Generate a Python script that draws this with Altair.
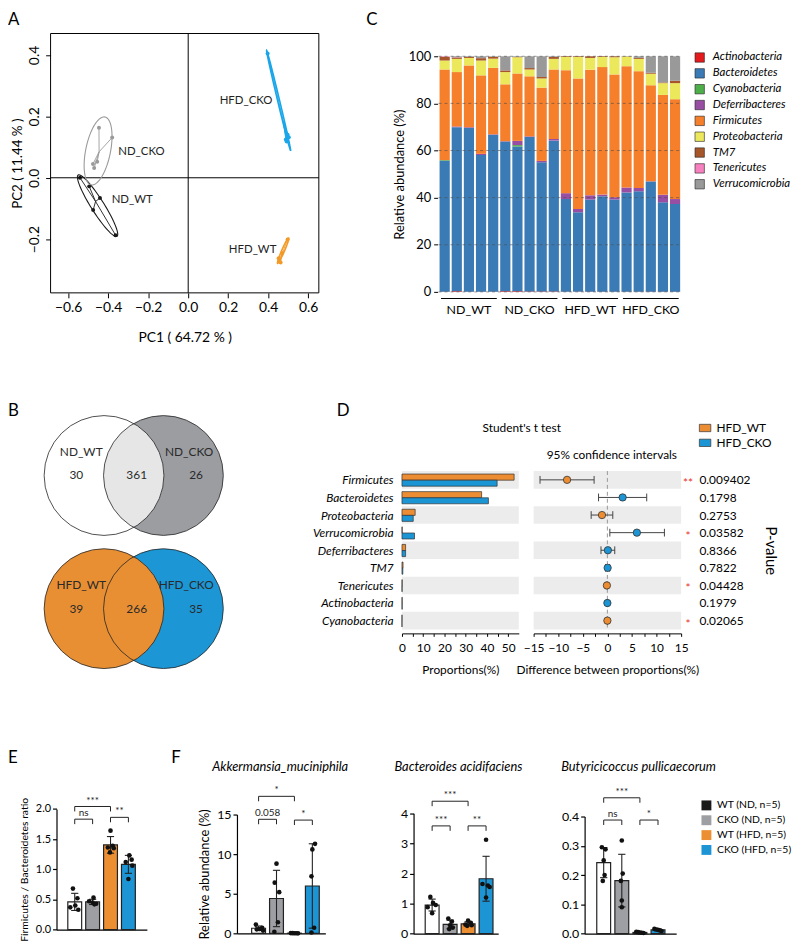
import altair as alt
import numpy as np
import pandas as pd

W, H = 792, 936
M = 8
FONT = "Lato"


def px(v):
    return v - M


# ====================== DATA ======================
pca_group = ["ND_WT"] * 5 + ["ND_CKO"] * 5 + ["HFD_CKO"] * 5 + ["HFD_WT"] * 5
pc1 = [-0.541, -0.495, -0.441, -0.475, -0.363,
       -0.446, -0.380, -0.455, -0.470, -0.476,
       0.397, 0.497, 0.492, 0.503, 0.488,
       0.456, 0.462, 0.452, 0.497, 0.470]
pc2 = [0.000, -0.028, -0.066, -0.105, -0.187,
       0.163, 0.131, 0.052, 0.032, 0.045,
       0.405, 0.140, 0.118, 0.132, 0.125,
       -0.272, -0.276, -0.262, -0.201, -0.245]
pca_groups = ["ND_WT", "ND_CKO", "HFD_CKO", "HFD_WT"]
pca_colors = ["#1a1a1a", "#9a9a9a", "#1aa6e8", "#f29a28"]

sample_groups = ["ND_WT", "ND_CKO", "HFD_WT", "HFD_CKO"]
samples = [f"{g}_{i}" for g in sample_groups for i in range(1, 6)]
phyla = ["Actinobacteria", "Bacteroidetes", "Cyanobacteria", "Deferribacteres",
         "Firmicutes", "Proteobacteria", "TM7", "Tenericutes", "Verrucomicrobia"]
phyla_colors = ["#e41a1c", "#3b7bb5", "#4daf4a", "#984ea3", "#f57f2b",
                "#ece85c", "#a65628", "#f781bf", "#999999"]
abund = {
    "Actinobacteria": [0.1, 0.3, 0.1, 0.1, 0.1, 0.3, 0.3, 0.2, 0.2, 0.2,
                       0.1, 0.1, 0.1, 0.1, 0.1, 0.1, 0.1, 0.1, 0.1, 0.1],
    "Bacteroidetes": [55.5, 69.6, 69.5, 58.0, 66.6, 63.4, 61.4, 65.5, 54.8, 64.0,
                      39.3, 33.7, 39.1, 40.5, 39.1, 42.1, 42.6, 46.8, 37.9, 37.2],
    "Cyanobacteria": [0.3, 0, 0, 0, 0, 0.1, 0.6, 0, 0, 0,
                      0, 0, 0, 0, 0, 0, 0, 0, 0, 0],
    "Deferribacteres": [0.1, 0.3, 0.3, 0.5, 0.2, 0.2, 1.8, 0.3, 0.6, 0.7,
                        2.5, 1.4, 1.8, 0.7, 1.0, 2.1, 1.4, 0.1, 3.2, 2.1],
    "Firmicutes": [38.4, 23.1, 26.2, 33.3, 28.2, 24.1, 28.6, 25.5, 31.1, 29.5,
                   52.2, 55.4, 53.3, 54.1, 52.1, 51.5, 49.6, 40.7, 42.4, 42.4],
    "Proteobacteria": [3.8, 5.6, 3.2, 6.3, 3.9, 5.2, 6.9, 2.9, 3.9, 4.5,
                       5.6, 9.1, 5.0, 4.3, 7.3, 4.1, 5.2, 4.9, 5.0, 6.8],
    "TM7": [1.6, 0.6, 0.4, 1.0, 0.8, 0.7, 0.1, 0.6, 0.6, 0.8,
            0.3, 0.3, 0.7, 0.3, 0.4, 0.1, 0.4, 0.4, 0.3, 1.0],
    "Tenericutes": [0.2, 0.1, 0, 0, 0, 0, 0, 0, 0, 0,
                    0, 0, 0, 0, 0, 0, 0, 0, 0, 0],
    "Verrucomicrobia": [0, 0.4, 0.3, 0.8, 0.2, 6.0, 0.3, 5.0, 8.8, 0.3,
                        0, 0, 0, 0, 0, 0.1, 0.7, 7.0, 11.1, 10.4],
}

venn_sets = ["ND_WT", "ND_CKO", "HFD_WT", "HFD_CKO"]
venn_colors = ["#ffffff", "#9b9da1", "#e88f34", "#1c96d5"]
venn_only = [30, 26, 39, 35]
venn_shared = [361, 266]

d_phyla = ["Firmicutes", "Bacteroidetes", "Proteobacteria", "Verrucomicrobia",
           "Deferribacteres", "TM7", "Tenericutes", "Actinobacteria", "Cyanobacteria"]
prop_wt = [52.8, 37.5, 6.2, 0.1, 1.7, 0.5, 0.1, 0.1, 0.02]
prop_cko = [44.8, 40.7, 5.3, 5.9, 1.7, 0.4, 0.05, 0.1, 0.0]
diff = [-8.2, 3.1, -1.1, 6.0, 0.1, 0.05, -0.1, 0.0, 0.0]
ci_lo = [-13.7, -1.8, -3.3, 0.5, -1.3, -0.35, -0.25, -0.1, -0.05]
ci_hi = [-2.7, 8.0, 1.1, 11.6, 1.5, 0.45, 0.05, 0.1, 0.05]
higher = ["HFD_WT", "HFD_CKO", "HFD_WT", "HFD_CKO", "HFD_CKO",
          "HFD_CKO", "HFD_WT", "HFD_CKO", "HFD_WT"]
pvals = ["0.009402", "0.1798", "0.2753", "0.03582", "0.8366",
         "0.7822", "0.04428", "0.1979", "0.02065"]
stars = ["**", "", "", "*", "", "", "*", "", "*"]
d_groups = ["HFD_WT", "HFD_CKO"]
d_colors = ["#ec8d33", "#1c95d4"]

GROUPS = ["WT (ND, n=5)", "CKO (ND, n=5)", "WT (HFD, n=5)", "CKO (HFD, n=5)"]
BAR_FILL = ["#ffffff", "#9d9fa3", "#ec8f33", "#1d95d4"]
LEG_FILL = ["#1a1a1a", "#9d9fa3", "#ec8f33", "#1d95d4"]

fb_ratio = [[0.68, 0.52, 0.40, 0.37, 0.33], [0.53, 0.47, 0.45, 0.43, 0.42],
            [1.64, 1.39, 1.36, 1.35, 1.28], [1.23, 1.16, 1.12, 1.06, 0.84]]
fb_jit = [[-0.1, 0.15, 0.03, -0.25, 0.2], [0.05, -0.2, 0.0, 0.2, 0.1],
          [0.0, 0.12, -0.15, 0.18, -0.03], [0.05, 0.18, -0.15, 0.22, 0.0]]
akk = [[1.1, 0.7, 0.55, 0.5, 0.35], [8.8, 6.4, 5.2, 1.4, 0.2],
       [0.03, 0.02, 0.01, 0.01, 0.0], [11.3, 10.6, 7.2, 0.7, 0.1]]
akk_jit = [[-0.15, 0.2, 0.05, -0.1, 0.25], [0.0, -0.1, 0.15, 0.08, -0.12],
           [-0.2, -0.1, 0.0, 0.1, 0.2], [0.15, 0.0, -0.05, 0.1, -0.05]]
bac = [[1.22, 1.02, 0.95, 0.88, 0.68], [0.5, 0.4, 0.28, 0.2, 0.15],
       [0.43, 0.36, 0.3, 0.28, 0.26], [3.12, 1.65, 1.6, 1.55, 1.2]]
bac_jit = [[-0.1, 0.05, 0.2, -0.25, 0.0], [-0.1, 0.1, 0.0, 0.15, -0.05],
           [0.0, 0.15, -0.15, 0.2, -0.05], [0.0, -0.2, 0.1, 0.2, 0.0]]
but = [[0.295, 0.288, 0.25, 0.2, 0.18], [0.318, 0.205, 0.18, 0.113, 0.09],
       [0.006, 0.005, 0.004, 0.003, 0.002], [0.016, 0.014, 0.013, 0.011, 0.009]]
but_jit = [[-0.1, 0.1, 0.0, 0.05, -0.05], [0.0, 0.05, -0.05, 0.0, 0.0],
           [-0.2, -0.1, 0.0, 0.1, 0.2], [-0.2, -0.1, 0.0, 0.1, 0.2]]

fb_br = [(1, 2, 1.83, "ns"), (1, 3, 2.04, "***"), (3, 4, 1.86, "**")]
akk_br = [(1, 3, 17.3, "*"), (1, 2, 14.4, "0.058"), (3, 4, 14.3, "*")]
bac_br = [(1, 3, 4.4, "***"), (1, 2, 3.58, "***"), (3, 4, 3.58, "**")]
but_br = [(1, 3, 0.464, "***"), (1, 2, 0.388, "ns"), (3, 4, 0.388, "*")]

# ====================== HELPERS ======================
dummy = pd.DataFrame({"k": [0]})
AX = dict(grid=False, labelFlush=False, labelOverlap=False, labelColor="black",
          titleColor="black", domainColor="black", tickColor="black",
          titleFontWeight="normal")


def axis_left(at_x, **kw):
    return alt.Axis(orient="left", offset=-px(at_x), **{**AX, **kw})


def axis_bottom(at_y, **kw):
    return alt.Axis(orient="bottom", offset=px(at_y) - H, **{**AX, **kw})


def axis_right(at_x, **kw):
    return alt.Axis(orient="right", offset=px(at_x) - W, **{**AX, **kw})


def lin(domain, r0, r1):
    return alt.Scale(domain=domain, range=[px(r0), px(r1)], nice=False, zero=False)


def note(text, x, y, size=12, align="left", baseline="alphabetic", style="normal", color="black"):
    return alt.Chart(dummy).mark_text(
        text=text, fontSize=size, align=align, baseline=baseline, fontStyle=style, color=color
    ).encode(x=alt.value(px(x)), y=alt.value(px(y)))


# ====================== PANEL A ======================
A_XDOM, A_YDOM = [-0.688, 0.653], [-0.375, 0.47]
A_L, A_R, A_T, A_B = 51, 322, 29, 291
a_xs = lin(A_XDOM, A_L, A_R)
a_ys = lin(A_YDOM, A_B, A_T)
a_col = alt.Scale(domain=pca_groups, range=pca_colors)
KX = (A_R - A_L) / (A_XDOM[1] - A_XDOM[0])
KY = (A_B - A_T) / (A_YDOM[1] - A_YDOM[0])

ellipse_spec = {
    "ND_WT": ((-0.55, 0.009), (-0.356, -0.191), 6.5),
    "ND_CKO": ((-0.416, 0.198), (-0.485, -0.023), 12.5),
    "HFD_CKO": ((0.392, 0.415), (0.512, 0.088), 1.0),
    "HFD_WT": ((0.447, -0.279), (0.502, -0.196), 1.4),
}


def ellipse_points(p1, p2, half_px, n=90):
    x1, y1 = p1[0] * KX, p1[1] * KY
    x2, y2 = p2[0] * KX, p2[1] * KY
    cx, cy = (x1 + x2) / 2, (y1 + y2) / 2
    ax, ay = (x2 - x1) / 2, (y2 - y1) / 2
    L = np.hypot(ax, ay)
    bx, by = -ay / L * half_px, ax / L * half_px
    t = np.linspace(0, 2 * np.pi, n + 1)
    X = cx + ax * np.cos(t) + bx * np.sin(t)
    Y = cy + ay * np.cos(t) + by * np.sin(t)
    return X / KX, Y / KY, t


ell_rows = []
for g, (p1, p2, hw) in ellipse_spec.items():
    xe, ye, te = ellipse_points(p1, p2, hw)
    for a, b, c in zip(xe, ye, te):
        ell_rows.append({"group": g, "x": a, "y": b, "t": c,
                         "w": 1.6 if g.startswith("HFD") else 1.1})
ell_df = pd.DataFrame(ell_rows)

pca_df = pd.DataFrame({"group": pca_group, "pc1": pc1, "pc2": pc2})
cent = pca_df.groupby("group")[["pc1", "pc2"]].mean().rename(columns={"pc1": "c1", "pc2": "c2"}).reset_index()
spider_df = pca_df.merge(cent, on="group")

a_pts = alt.Chart(pca_df).mark_circle(size=16, opacity=1).encode(
    x=alt.X("pc1:Q", scale=a_xs, axis=axis_bottom(
        A_B, values=[-0.6, -0.4, -0.2, 0, 0.2, 0.4, 0.6], format=".1f", domain=False,
        tickSize=5, labelPadding=3, labelFontSize=14, title="PC1 ( 64.72 % )",
        titleFontSize=14, titleY=45, titleBaseline="middle")),
    y=alt.Y("pc2:Q", scale=a_ys, axis=axis_left(
        A_L, values=[-0.2, 0, 0.2, 0.4], format=".1f", domain=False, tickSize=5,
        labelPadding=4, labelFontSize=14, labelAngle=270, labelAlign="center",
        labelBaseline="bottom", title="PC2 ( 11.44 % )", titleFontSize=13.5,
        titleAngle=270, titleX=-33, titleAlign="center", titleBaseline="middle")),
    color=alt.Color("group:N", scale=a_col, legend=None),
)
a_frame = alt.Chart(dummy).mark_rect(fillOpacity=0, stroke="black", strokeWidth=1).encode(
    x=alt.datum(A_XDOM[0]), x2=alt.datum(A_XDOM[1]),
    y=alt.datum(A_YDOM[0]), y2=alt.datum(A_YDOM[1]))
a_vline = alt.Chart(dummy).mark_rule(color="black", strokeWidth=1).encode(
    x=alt.datum(0), y=alt.datum(A_YDOM[0]), y2=alt.datum(A_YDOM[1]))
a_hline = alt.Chart(dummy).mark_rule(color="black", strokeWidth=1).encode(
    y=alt.datum(0), x=alt.datum(A_XDOM[0]), x2=alt.datum(A_XDOM[1]))
a_ell = alt.Chart(ell_df).mark_line().encode(
    x="x:Q", y="y:Q", detail="group:N", order="t:Q",
    strokeWidth=alt.StrokeWidth("w:Q", scale=None),
    color=alt.Color("group:N", legend=None))
a_spider = alt.Chart(spider_df).mark_rule(strokeWidth=0.9).encode(
    x="c1:Q", y="c2:Q", x2="pc1:Q", y2="pc2:Q",
    color=alt.Color("group:N", legend=None))
a_label_pos = [("HFD_CKO", 0.289, 0.25), ("ND_CKO", -0.234, 0.085),
               ("ND_WT", -0.28, -0.073), ("HFD_WT", 0.322, -0.237)]
a_labels = [alt.Chart(dummy).mark_text(text=t, fontSize=11.5, color="#222", baseline="middle").encode(
    x=alt.datum(xv), y=alt.datum(yv)) for t, xv, yv in a_label_pos]
panel_a = alt.layer(a_pts, a_frame, a_vline, a_hline, a_ell, a_spider, *a_labels)

# ====================== PANEL C ======================
c_rows = []
for k, p in enumerate(phyla):
    for s, v in zip(samples, abund[p]):
        c_rows.append({"sample": s, "phylum": p, "pidx": k, "value": v})
c_df = pd.DataFrame(c_rows)
c_xs = alt.Scale(domain=samples, range=[px(443), px(688)], paddingInner=0.16, paddingOuter=0.08)
c_ys = lin([0, 100], 290, 52)
c_bars = alt.Chart(c_df).mark_bar().encode(
    x=alt.X("sample:N", scale=c_xs, sort=samples, axis=None),
    y=alt.Y("value:Q", scale=c_ys, stack="zero", axis=axis_left(
        442, values=[0, 20, 40, 60, 80, 100], domain=False, tickSize=4, labelPadding=3,
        labelFontSize=13, title="Relative abundance (%)", titleFontSize=13, titleX=-38,
        titleAngle=270, titleAlign="center", titleBaseline="middle")),
    color=alt.Color("phylum:N", scale=alt.Scale(domain=phyla, range=phyla_colors),
                    legend=alt.Legend(orient="none", legendX=px(701), legendY=px(47.5), title=None,
                                      symbolType="square", symbolSize=90, symbolStrokeColor="#222",
                                      symbolStrokeWidth=0.6, labelFontSize=11.5, labelFontStyle="italic",
                                      labelOffset=7.5, rowPadding=3, padding=0, labelColor="black")),
    order=alt.Order("pidx:Q", sort="ascending"),
)
c_oxs = lin([0, 20], 443, 688)
grid_df = pd.DataFrame({"v": [0, 20, 40, 60, 80, 100]})
c_grid = alt.Chart(grid_df).mark_rule(color="#4d4d4d", strokeDash=[3, 3], strokeWidth=0.8, opacity=0.75).encode(
    x=alt.X(datum=0, scale=c_oxs, axis=None), x2=alt.datum(20),
    y=alt.Y("v:Q", scale=c_ys, axis=None))
grp_df = pd.DataFrame({"grp": sample_groups, "gidx": range(4)})
c_under = alt.Chart(grp_df).transform_calculate(
    x1="datum.gidx * 5 + 0.2", x2="datum.gidx * 5 + 4.8").mark_rule(color="black", strokeWidth=1.2).encode(
    x="x1:Q", x2="x2:Q", y=alt.datum(-2.8))
c_glab = alt.Chart(grp_df).transform_calculate(xm="datum.gidx * 5 + 2.5").mark_text(
    fontSize=12.5, baseline="middle", color="black").encode(
    x="xm:Q", y=alt.datum(-7.7), text="grp:N")
panel_c2 = alt.layer(c_grid, c_under, c_glab)

# ====================== PANEL B (Venn) ======================
VX, VY = [-0.5, 0.5], [0, 1]
VS = 121 ** 2
venn_df = pd.DataFrame({"set": venn_sets, "side": [-0.5, 0.5, -0.5, 0.5], "row": [0, 0, 1, 1]})


def vx():
    return lin(VX, 105, 165)


def vy():
    return lin(VY, 475.5, 610)


def vcol():
    return alt.Scale(domain=venn_sets, range=venn_colors)


def venn_circles(filt, opacity):
    return alt.Chart(venn_df).transform_filter(filt).mark_point(
        shape="circle", filled=True, size=VS, opacity=opacity).encode(
        x=alt.X("side:Q", scale=vx(), axis=None), y=alt.Y("row:Q", scale=vy(), axis=None),
        color=alt.Color("set:N", scale=vcol(), legend=None))


v_right = venn_circles("datum.side > 0", 1)
v_left_top = venn_circles("datum.side < 0 && datum.row == 0", 0.75)
v_left_bot = venn_circles("datum.side < 0 && datum.row == 1", 1)
v_out = alt.Chart(venn_df).mark_point(shape="circle", filled=False, size=VS, color="#222",
                                      strokeWidth=0.8, opacity=1).encode(
    x=alt.X("side:Q", scale=vx(), axis=None), y=alt.Y("row:Q", scale=vy(), axis=None))


def vtext(t, side, row, dx, dy):
    return alt.Chart(dummy).mark_text(text=str(t), fontSize=12, color="#2a2a2a", baseline="middle",
                                      dx=dx, dy=dy).encode(
        x=alt.X(datum=side, scale=vx(), axis=None), y=alt.Y(datum=row, scale=vy(), axis=None))


v_texts = [
    vtext(venn_sets[0], -0.5, 0, -23, -24), vtext(venn_sets[1], 0.5, 0, 26, -24),
    vtext(venn_only[0], -0.5, 0, -28, 0), vtext(venn_shared[0], 0, 0, 3, 0),
    vtext(venn_only[1], 0.5, 0, 33, 0),
    vtext(venn_sets[2], -0.5, 1, -23, -24), vtext(venn_sets[3], 0.5, 1, 23, -24),
    vtext(venn_only[2], -0.5, 1, -28, 0), vtext(venn_shared[1], 0, 1, 3, 0),
    vtext(venn_only[3], 0.5, 1, 33, 0),
]
venn_layers = [v_right, v_left_top, v_left_bot, v_out, *v_texts]

# ====================== PANEL D ======================
nD = len(d_phyla)
d_ys = lin([-0.5, nD - 0.5], 471, 631)
d_bxs = lin([0, 55], 406, 524)
d_cxs = lin([-15, 15], 539, 688)
D_AXIS_Y = 635
band_df = pd.DataFrame({"i": list(range(0, nD, 2))})
bar_rows = []
for i in range(nD):
    bar_rows.append({"i": i, "grp": "HFD_WT", "value": prop_wt[i]})
    bar_rows.append({"i": i, "grp": "HFD_CKO", "value": prop_cko[i]})
dbar_df = pd.DataFrame(bar_rows)
names_expr = "[" + ",".join(f"'{p}'" for p in d_phyla) + "][datum.value]"
pv_expr = "[" + ",".join(f"'{p}'" for p in pvals) + "][datum.value]"

d_band1 = alt.Chart(band_df).transform_calculate(y0="datum.i - 0.5", y1="datum.i + 0.5").mark_rect(
    color="#ececec").encode(x=alt.datum(0), x2=alt.datum(55), y="y0:Q", y2="y1:Q")
d_bar = alt.Chart(dbar_df).transform_calculate(
    y0="datum.grp == 'HFD_WT' ? datum.i - 0.33 : datum.i + 0.02",
    y1="datum.grp == 'HFD_WT' ? datum.i + 0.02 : datum.i + 0.36",
).mark_rect(stroke="#333", strokeWidth=0.7).encode(
    x=alt.X("value:Q", scale=d_bxs, axis=axis_bottom(
        D_AXIS_Y, values=list(range(0, 55, 5)), format="d",
        labelExpr="datum.value % 10 === 0 ? datum.label : ''", tickSize=3, labelPadding=6,
        labelFontSize=12, title="Proportions(%)", titleFontSize=12, titleY=37, titleBaseline="middle")),
    x2=alt.datum(0),
    y=alt.Y("y0:Q", scale=d_ys, axis=axis_left(
        406, values=list(range(nD)), labelExpr=names_expr, ticks=False, domain=False,
        labelPadding=9, labelFontSize=12, labelFontStyle="italic", title=None)),
    y2="y1:Q",
    color=alt.Color("grp:N", scale=alt.Scale(domain=d_groups, range=d_colors), legend=alt.Legend(
        orient="none", legendX=px(705.7), legendY=px(421), title=None,
        symbolType="M-1,-0.64L1,-0.64L1,0.64L-1,0.64Z", symbolSize=134, symbolStrokeColor="#333",
        symbolStrokeWidth=0.7, labelFontSize=12, labelOffset=5, rowPadding=2, padding=0,
        labelColor="black")),
)
panel_d1 = alt.layer(d_band1, d_bar)

ci_df = pd.DataFrame({"i": list(range(nD)), "diff": diff, "lo": ci_lo, "hi": ci_hi,
                      "grp": higher, "star": stars})
d_band2 = alt.Chart(band_df).transform_calculate(y0="datum.i - 0.5", y1="datum.i + 0.5").mark_rect(
    color="#ececec").encode(x=alt.datum(-15), x2=alt.datum(15), y="y0:Q", y2="y1:Q")
d_zero = alt.Chart(dummy).mark_rule(color="#999", strokeDash=[4, 3], strokeWidth=1).encode(
    x=alt.datum(0), y=alt.datum(-0.5), y2=alt.datum(nD - 0.5))
d_ci = alt.Chart(ci_df).mark_rule(color="#444", strokeWidth=1).encode(x="lo:Q", x2="hi:Q", y="i:Q")
d_cap_l = alt.Chart(ci_df).transform_calculate(a="datum.i - 0.22", b="datum.i + 0.22").mark_rule(
    color="#444", strokeWidth=1).encode(x="lo:Q", y="a:Q", y2="b:Q")
d_cap_r = alt.Chart(ci_df).transform_calculate(a="datum.i - 0.22", b="datum.i + 0.22").mark_rule(
    color="#444", strokeWidth=1).encode(x="hi:Q", y="a:Q", y2="b:Q")
d_pts = alt.Chart(ci_df).mark_point(filled=True, size=55, stroke="#333", strokeWidth=0.8, opacity=1).encode(
    x=alt.X("diff:Q", scale=d_cxs, axis=axis_bottom(
        D_AXIS_Y, values=[float(v) for v in np.arange(-15, 15.1, 2.5)], format="d",
        labelExpr="datum.value % 5 === 0 ? datum.label : ''", tickSize=3, labelPadding=6,
        labelFontSize=12, title="Difference between proportions(%)", titleFontSize=12,
        titleY=37, titleBaseline="middle")),
    y=alt.Y("i:Q", scale=d_ys, axis=axis_right(
        688, values=list(range(nD)), labelExpr=pv_expr, ticks=False, domain=False,
        labelPadding=18, labelFontSize=12, title="P-value", titleFontSize=15, titleAngle=90,
        titleX=90, titleAlign="center", titleBaseline="middle")),
    color=alt.Color("grp:N", scale=alt.Scale(domain=d_groups, range=d_colors), legend=None),
)
d_star = alt.Chart(ci_df).mark_text(color="#e8332a", fontSize=12, dx=7, dy=3, align="center",
                                    baseline="middle").encode(x=alt.datum(15), y="i:Q", text="star:N")
panel_d2 = alt.layer(d_band2, d_zero, d_ci, d_cap_l, d_cap_r, d_pts, d_star)


# ====================== PANELS E / F ======================
def bar_panel(vals, jit, xdom, xr, ydom, yr, yticks, yfmt, brackets, ytitle=None,
              title_x=0, title_size=13, label_size=12):
    rows = []
    for gi in range(4):
        for v, j in zip(vals[gi], jit[gi]):
            rows.append({"g": GROUPS[gi], "gi": gi + 1, "v": v, "xj": gi + 1 + j})
    df = pd.DataFrame(rows)
    xs = lin(xdom, xr[0], xr[1])
    ys = lin(ydom, yr[0], yr[1])
    ykw = dict(values=yticks, format=yfmt, tickSize=4, labelPadding=2, labelFontSize=label_size,
               domainWidth=1.2, tickWidth=1.2)
    if ytitle:
        ykw.update(title=ytitle, titleFontSize=title_size, titleX=title_x, titleAngle=270,
                   titleAlign="center", titleBaseline="middle")
    else:
        ykw.update(title=None)
    base = alt.Chart(df)
    bars = base.mark_bar(size=14, stroke="#222", strokeWidth=1.2, orient="vertical").encode(
        x=alt.X("gi:Q", scale=xs, axis=axis_bottom(yr[0], labels=False, ticks=False, title=None,
                                                   domainWidth=1.2)),
        y=alt.Y("mean(v):Q", scale=ys, stack=None, axis=axis_left(xr[0], **ykw)),
        color=alt.Color("g:N", scale=alt.Scale(domain=GROUPS, range=BAR_FILL), legend=None),
    )
    agg = base.transform_aggregate(m="mean(v)", s="stdev(v)", groupby=["gi"]).transform_calculate(
        lo="datum.m - datum.s", hi="datum.m + datum.s", cl="datum.gi - 0.2", cr="datum.gi + 0.2")
    e_rule = agg.mark_rule(color="#222", strokeWidth=1.1).encode(x="gi:Q", y="lo:Q", y2="hi:Q")
    e_top = agg.mark_rule(color="#222", strokeWidth=1.1).encode(x="cl:Q", x2="cr:Q", y="hi:Q")
    e_bot = agg.mark_rule(color="#222", strokeWidth=1.1).encode(x="cl:Q", x2="cr:Q", y="lo:Q")
    pts = base.mark_circle(size=22, color="#111", opacity=1).encode(x="xj:Q", y="v:Q")
    drop = 5 * (ydom[1] - ydom[0]) / (yr[0] - yr[1])
    br_df = pd.DataFrame(brackets, columns=["a", "b", "y", "label"])
    br = alt.Chart(br_df).transform_calculate(ylo=f"datum.y - {drop}", xm="(datum.a + datum.b) / 2")
    br_h = br.mark_rule(color="#222", strokeWidth=1).encode(x="a:Q", x2="b:Q", y="y:Q")
    br_l = br.mark_rule(color="#222", strokeWidth=1).encode(x="a:Q", y="y:Q", y2="ylo:Q")
    br_r = br.mark_rule(color="#222", strokeWidth=1).encode(x="b:Q", y="y:Q", y2="ylo:Q")
    br_t = br.mark_text(fontSize=10, baseline="bottom", dy=-1, align="center", color="#222").encode(
        x="xm:Q", y="y:Q", text="label:N")
    return alt.layer(bars, e_rule, e_top, e_bot, pts, br_h, br_l, br_r, br_t)


panel_e = bar_panel(fb_ratio, fb_jit, [0.258, 4.756], [57, 148.3], [0, 2], [934.3, 812.3],
                    [0, 0.5, 1, 1.5, 2], ".1f", fb_br, ytitle="Firmicutes / Bacteroidetes ratio",
                    title_x=-32, title_size=10.5, label_size=11)
panel_f1 = bar_panel(akk, akk_jit, [0.07, 4.45], [239.3, 328.6], [0, 15], [938, 818],
                     [0, 5, 10, 15], "d", akk_br, ytitle="Relative abundance (%)",
                     title_x=-32.6, title_size=13, label_size=12.5)
panel_f2 = bar_panel(bac, bac_jit, [0.242, 4.40], [417.7, 503.2], [0, 4], [938.3, 816.7],
                     [0, 1, 2, 3, 4], "d", bac_br, label_size=12.5)
panel_f3 = bar_panel(but, but_jit, [0.22, 4.73], [590.5, 683], [0, 0.4], [938.3, 820],
                     [0, 0.1, 0.2, 0.3, 0.4], ".1f", but_br, label_size=12.5)

f_leg = alt.Chart(pd.DataFrame({"g": GROUPS})).mark_square(opacity=0).encode(
    x=alt.value(0), y=alt.value(0),
    color=alt.Color("g:N", scale=alt.Scale(domain=GROUPS, range=LEG_FILL), legend=alt.Legend(
        orient="none", legendX=px(708.3), legendY=px(803.5), title=None, symbolType="square",
        symbolSize=100, symbolOpacity=1, symbolStrokeWidth=0, labelFontSize=10.5, labelOffset=5.5,
        rowPadding=4, padding=0, labelColor="black")),
)

# ====================== ANNOTATIONS ======================
notes = [
    note("A", 8, 20.5, 17), note("C", 370, 20.5, 17), note("B", 8, 415, 17),
    note("D", 340, 415, 17), note("E", 8, 766, 17), note("F", 173, 766, 17),
    note("Student's t test", 527, 428, 12, align="center", baseline="middle"),
    note("95% confidence intervals", 618, 455, 12, align="center", baseline="middle"),
    note("Akkermansia_muciniphila", 283, 770, 13, align="center", baseline="middle", style="italic"),
    note("Bacteroides acidifaciens", 463, 770, 13, align="center", baseline="middle", style="italic"),
    note("Butyricicoccus pullicaecorum", 645, 770, 13, align="center", baseline="middle", style="italic"),
]

chart = alt.layer(
    panel_a, c_bars, panel_c2, *venn_layers, panel_d1, panel_d2,
    panel_e, panel_f1, panel_f2, panel_f3, f_leg, *notes
).resolve_scale(
    x="independent", y="independent", color="independent"
).resolve_axis(
    x="independent", y="independent"
).resolve_legend(
    color="independent"
).properties(
    width=W, height=H, autosize=alt.AutoSizeParams(type="none"), padding=0
).configure(
    font=FONT
).configure_view(
    strokeWidth=0
)

chart.save("out.html", embed_options={"renderer": "svg", "actions": False})
